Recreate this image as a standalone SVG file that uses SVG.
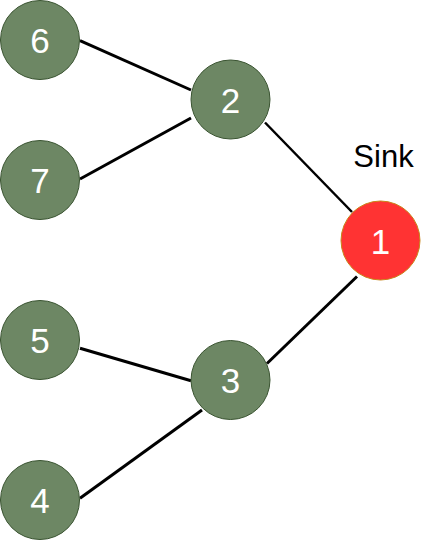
<svg xmlns="http://www.w3.org/2000/svg" width="432" height="542" viewBox="0 0 432 542">
<style>
.n{fill:#6D8764;stroke:#3A5431;stroke-width:1}
.s{fill:#FF3333;stroke:#C8861A;stroke-width:1}
.t{font-family:"Liberation Sans",Arial,sans-serif;font-size:35px;fill:#FFFFFF;text-anchor:middle}
.l{font-family:"Liberation Sans",Arial,sans-serif;font-size:31px;fill:#000000;text-anchor:middle}
.e{stroke:#000000;stroke-width:3;fill:none}
</style>
<rect width="432" height="542" fill="#FFFFFF"/>
<g id="connectors">
<line class="e" x1="80" y1="40.7" x2="191" y2="90"/>
<line class="e" x1="80" y1="179" x2="191" y2="118"/>
<line class="e" x1="265" y1="122.5" x2="352" y2="212" style="stroke-width:2.5"/>
<line class="e" x1="357" y1="276.5" x2="267" y2="363.5"/>
<line class="e" x1="80" y1="348.3" x2="191" y2="380.7"/>
<line class="e" x1="80" y1="498.3" x2="202" y2="410"/>
</g>
<g id="node6"><circle class="n" cx="40" cy="40" r="39.5"/><text class="t" x="40" y="53">6</text></g>
<g id="node7"><circle class="n" cx="40" cy="180" r="39.5"/><text class="t" x="40" y="193">7</text></g>
<g id="node5"><circle class="n" cx="40" cy="340" r="39.5"/><text class="t" x="40" y="353">5</text></g>
<g id="node4"><circle class="n" cx="40" cy="500" r="39.5"/><text class="t" x="40" y="513">4</text></g>
<g id="node2"><circle class="n" cx="230.5" cy="99.5" r="39.5"/><text class="t" x="230.5" y="112.5">2</text></g>
<g id="node3"><circle class="n" cx="230.5" cy="380" r="39.5"/><text class="t" x="230.5" y="393">3</text></g>
<g id="node1"><circle class="s" cx="380.5" cy="240.5" r="39.5"/><text class="t" x="380.5" y="253.5">1</text></g>
<g id="label-sink"><text class="l" x="383.5" y="167">Sink</text></g>
</svg>
